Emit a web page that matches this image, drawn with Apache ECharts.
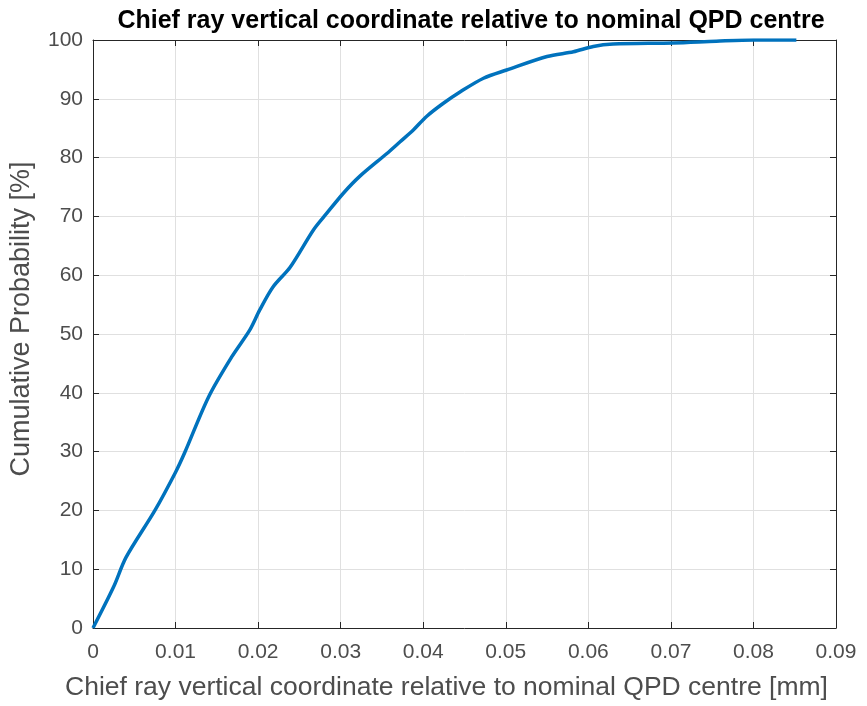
<!DOCTYPE html>
<html><head><meta charset="utf-8">
<script src="https://cdn.jsdelivr.net/npm/echarts@6/dist/echarts.min.js"></script>
<style>html,body{margin:0;padding:0;background:#fff}#c{width:867px;height:706px}</style>
</head><body><div id="c"></div>
<script>
const titleText = 'Chief ray vertical coordinate relative to nominal QPD centre';
const xName = 'Chief ray vertical coordinate relative to nominal QPD centre [mm]';
const yName = 'Cumulative Probability [%]';
const xCoord = [0, 0.0025, 0.004, 0.0075, 0.0100, 0.0111, 0.0140, 0.0168, 0.0190, 0.0202, 0.0218, 0.0239, 0.0267, 0.0283, 0.0303, 0.0323, 0.0356, 0.0372, 0.0388, 0.0404, 0.0424, 0.0445, 0.0473, 0.0501, 0.0550, 0.0582, 0.0606, 0.0630, 0.0703, 0.0755, 0.0800, 0.0852];
const cumProb = [0, 7, 12, 20, 26.5, 29.8, 39.3, 46.1, 50.7, 54.1, 58.0, 61.4, 67.7, 70.5, 73.9, 76.8, 80.7, 82.7, 84.7, 87.0, 89.2, 91.2, 93.5, 94.9, 97.2, 98.0, 98.9, 99.3, 99.5, 99.8, 100, 100];
const xTicks = [0, 0.01, 0.02, 0.03, 0.04, 0.05, 0.06, 0.07, 0.08, 0.09];
const yTicks = [0, 10, 20, 30, 40, 50, 60, 70, 80, 90, 100];

const axisCol = '#262626';
const labelCol = '#4d4d4d';
const font = 'Liberation Sans, Arial, sans-serif';
const chart = echarts.init(document.getElementById('c'));
const commonX = {
  type: 'value', min: xTicks[0], max: xTicks[xTicks.length-1], interval: 0.01,
  axisLine: {show: true, onZero: false, lineStyle: {color: axisCol, width: 1}},
  axisTick: {show: true, inside: true, length: 6, lineStyle: {color: axisCol}},
  splitLine: {show: true, lineStyle: {color: '#e0e0e0', width: 1}}
};
const commonY = {
  type: 'value', min: yTicks[0], max: yTicks[yTicks.length-1], interval: 10,
  axisLine: {show: true, onZero: false, lineStyle: {color: axisCol, width: 1}},
  axisTick: {show: true, inside: true, length: 6, lineStyle: {color: axisCol}},
  splitLine: {show: true, lineStyle: {color: '#e0e0e0', width: 1}}
};
chart.setOption({
  animation: false,
  backgroundColor: '#fff',
  title: {text: titleText, left: 466, top: 4, textAlign: 'center',
    textStyle: {fontFamily: font, fontSize: 25, fontWeight: 'bold', color: '#000'}},
  grid: {left: 93, right: 31, top: 40, bottom: 78},
  xAxis: [
    Object.assign({}, commonX, {position: 'bottom', name: xName, nameLocation: 'middle', nameGap: 46,
      nameTextStyle: {fontFamily: font, fontSize: 26.5, color: labelCol, padding: [0, 36, 0, 0]},
      axisLabel: {fontFamily: font, fontSize: 21, color: labelCol, margin: 14,
        formatter: v => xTicks.indexOf(+v.toFixed(2)) >= 0 ? String(+v.toFixed(2)) : ''}}),
    Object.assign({}, commonX, {position: 'top', axisLabel: {show: false}, splitLine: {show: false}})
  ],
  yAxis: [
    Object.assign({}, commonY, {position: 'left', name: yName, nameLocation: 'middle', nameGap: 58,
      nameTextStyle: {fontFamily: font, fontSize: 27, color: labelCol, padding: [0, 0, 0, 30]},
      axisLabel: {fontFamily: font, fontSize: 21, color: labelCol, margin: 10}}),
    Object.assign({}, commonY, {position: 'right', axisLabel: {show: false}, splitLine: {show: false}})
  ],
  series: [{
    type: 'line', xAxisIndex: 0, yAxisIndex: 0, showSymbol: false, smooth: 0.3,
    lineStyle: {color: '#0072BD', width: 3.5},
    data: xCoord.map((x, i) => [x, cumProb[i]])
  }]
});
</script></body></html>
